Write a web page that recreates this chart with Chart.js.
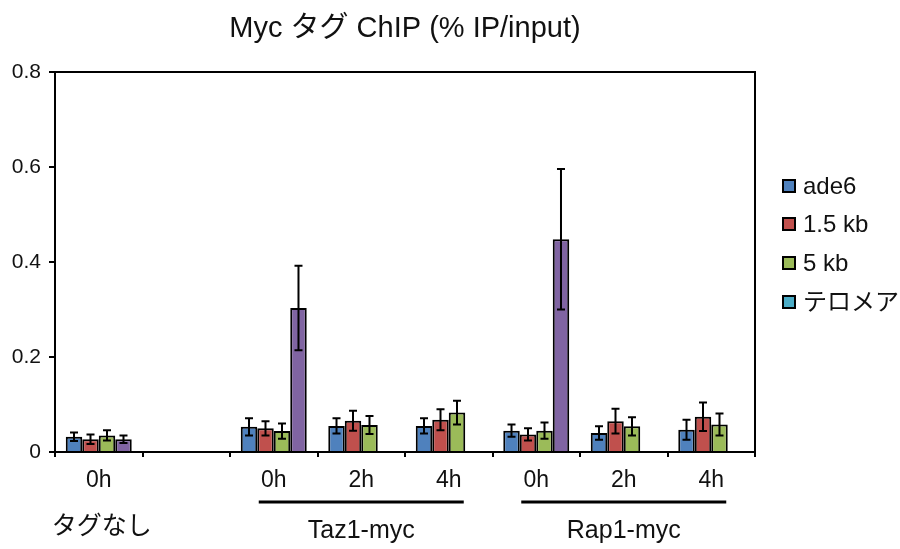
<!DOCTYPE html>
<html>
<head>
<meta charset="utf-8">
<script src="https://cdn.jsdelivr.net/npm/chart.js@4/dist/chart.umd.min.js"></script>
<style>
  body { margin: 0; background: #fff; }
  canvas { display: block; }
</style>
</head>
<body>
<canvas id="myChart" width="900" height="549"></canvas>
<script>
const categories = ['0h', '', '0h', '2h', '4h', '0h', '2h', '4h'];
const seriesNames = ['ade6', '1.5 kb', '5 kb', 'テロメア'];

const ade6 = [0.032, null, 0.053, 0.055, 0.055, 0.045, 0.040, 0.047];
const ade6Err = [0.009, null, 0.018, 0.016, 0.016, 0.013, 0.014, 0.021];
const kb15 = [0.027, null, 0.050, 0.066, 0.068, 0.037, 0.065, 0.074];
const kb15Err = [0.010, null, 0.015, 0.021, 0.022, 0.013, 0.026, 0.030];
const kb5 = [0.035, null, 0.044, 0.057, 0.083, 0.045, 0.054, 0.058];
const kb5Err = [0.011, null, 0.016, 0.019, 0.025, 0.017, 0.019, 0.023];
const telomere = [0.027, null, 0.303, null, null, 0.448, null, null];
const telomereErr = [0.008, null, 0.089, null, null, 0.148, null, null];

const yTicks = [0, 0.2, 0.4, 0.6, 0.8];
const groups = [
    { label: 'タグなし', from: 0, to: 0, line: false },
    { label: 'Taz1-myc', from: 2, to: 4, line: true },
    { label: 'Rap1-myc', from: 5, to: 7, line: true }
];
const titleText = 'Myc タグ ChIP (% IP/input)';

const barColors = ['#4f81bd', '#c0504d', '#9bbb59', '#8064a2'];
const legendColors = ['#4f81bd', '#c0504d', '#9bbb59', '#4bacc6'];
const FONT = '"Liberation Sans", Arial, "Noto Sans CJK JP", sans-serif';
const TEXT = '#111';

const errors = [ade6Err, kb15Err, kb5Err, telomereErr];

const errorBarPlugin = {
    id: 'errorBars',
    afterDatasetsDraw(chart) {
        const ctx = chart.ctx;
        const y = chart.scales.y;
        ctx.save();
        ctx.strokeStyle = '#000';
        ctx.lineWidth = 2;
        chart.data.datasets.forEach((ds, di) => {
            const meta = chart.getDatasetMeta(di);
            meta.data.forEach((bar, i) => {
                const v = ds.data[i];
                const e = errors[di][i];
                if (v == null || e == null) return;
                const yTop = y.getPixelForValue(v + e);
                const yBot = y.getPixelForValue(v - e);
                ctx.beginPath();
                ctx.moveTo(bar.x, yTop);
                ctx.lineTo(bar.x, yBot);
                ctx.moveTo(bar.x - 4, yTop);
                ctx.lineTo(bar.x + 4, yTop);
                ctx.moveTo(bar.x - 4, yBot);
                ctx.lineTo(bar.x + 4, yBot);
                ctx.stroke();
            });
        });
        ctx.restore();
    }
};

const decorPlugin = {
    id: 'decor',
    afterDraw(chart) {
        const ctx = chart.ctx;
        const area = chart.chartArea;
        const x = chart.scales.x;
        ctx.save();

        // top and right frame
        ctx.strokeStyle = '#000';
        ctx.lineWidth = 2;
        ctx.beginPath();
        ctx.moveTo(area.left, area.top);
        ctx.lineTo(area.right, area.top);
        ctx.lineTo(area.right, area.bottom);
        ctx.stroke();

        // title
        ctx.fillStyle = TEXT;
        ctx.font = '29px ' + FONT;
        ctx.textAlign = 'center';
        ctx.textBaseline = 'alphabetic';
        ctx.fillText(titleText, (area.left + area.right) / 2, 37);

        // group labels under the axis
        ctx.font = '25px ' + FONT;
        ctx.textBaseline = 'middle';
        groups.forEach(g => {
            const x0 = x.getPixelForValue(g.from);
            const x1 = x.getPixelForValue(g.to);
            const mid = (x0 + x1) / 2;
            if (g.line) {
                ctx.lineWidth = 3;
                ctx.beginPath();
                ctx.moveTo(x0 - 15, 502);
                ctx.lineTo(x1 + 15, 502);
                ctx.stroke();
                ctx.fillText(g.label, mid, 531);
            } else {
                ctx.fillText(g.label, mid + 3, 527);
            }
        });

        // legend
        ctx.textAlign = 'left';
        ctx.font = '24px ' + FONT;
        const rowY = [186, 224, 263, 302];
        seriesNames.forEach((name, i) => {
            ctx.fillStyle = legendColors[i];
            ctx.fillRect(783, rowY[i] - 6, 12, 12);
            ctx.lineWidth = 2;
            ctx.strokeStyle = '#000';
            ctx.strokeRect(783, rowY[i] - 6, 12, 12);
            ctx.fillStyle = TEXT;
            ctx.fillText(name, 803, rowY[i] + 1);
        });
        ctx.restore();
    }
};

const datasets = [ade6, kb15, kb5, telomere].map((values, i) => ({
    label: seriesNames[i],
    data: values,
    backgroundColor: barColors[i],
    borderColor: '#000',
    borderWidth: 2,
    borderSkipped: 'bottom',
    categoryPercentage: 0.754,
    barPercentage: 1.0
}));

new Chart(document.getElementById('myChart').getContext('2d'), {
    type: 'bar',
    data: { labels: categories, datasets: datasets },
    options: {
        responsive: false,
        animation: false,
        layout: { padding: { top: 72, right: 145, left: 0, bottom: 0 } },
        plugins: {
            legend: { display: false },
            title: { display: false },
            tooltip: { enabled: false }
        },
        scales: {
            x: {
                afterFit: scale => { scale.height = 97; },
                grid: {
                    offset: true,
                    drawOnChartArea: false,
                    drawTicks: true,
                    tickLength: 5,
                    color: '#000',
                    lineWidth: 2
                },
                border: { color: '#000', width: 2 },
                ticks: {
                    color: TEXT,
                    font: { family: FONT, size: 23 },
                    padding: 10,
                    maxRotation: 0,
                    autoSkip: false
                }
            },
            y: {
                min: 0,
                max: 0.8,
                afterFit: scale => { scale.width = 55; },
                afterBuildTicks: scale => {
                    scale.ticks = yTicks.map(v => ({ value: v }));
                },
                grid: {
                    drawOnChartArea: false,
                    drawTicks: true,
                    tickLength: 6,
                    color: '#000',
                    lineWidth: 2
                },
                border: { color: '#000', width: 2 },
                ticks: {
                    color: TEXT,
                    font: { family: FONT, size: 21 },
                    padding: 8,
                    callback: value => value === 0 ? '0' : value.toFixed(1)
                }
            }
        }
    },
    plugins: [errorBarPlugin, decorPlugin]
});
</script>
</body>
</html>
